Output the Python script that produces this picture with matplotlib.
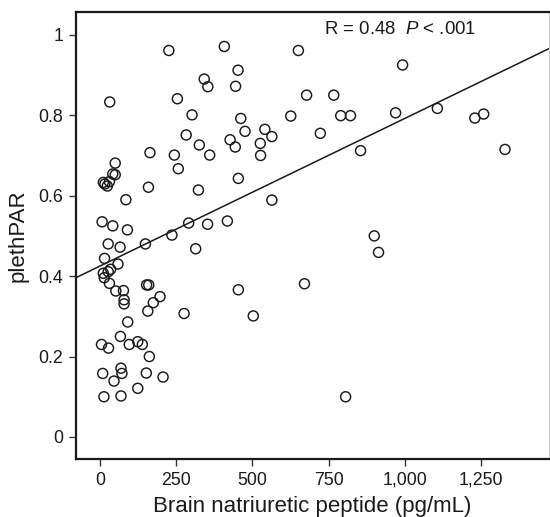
import numpy as np
import matplotlib
matplotlib.use('Agg')
import matplotlib.pyplot as plt

plt.rcParams['font.family'] = ['Liberation Sans', 'DejaVu Sans']
plt.rcParams['mathtext.fontset'] = 'custom'
plt.rcParams['mathtext.rm'] = 'Liberation Sans'
plt.rcParams['mathtext.it'] = 'Liberation Sans:italic'

# Brain natriuretic peptide (pg/mL)
bnp = [226, 408, 651, 453, 342, 354, 445, 32, 254, 678,
       767, 302, 462, 626, 790, 822, 970, 1107, 1230, 1259,
       993, 723, 283, 476, 541, 564, 326, 427, 444, 526,
       527, 164, 244, 360, 855, 1329, 257, 50, 42, 50,
       11, 16, 24, 31, 159, 454, 323, 85, 564, 7,
       42, 90, 291, 353, 418, 236, 900, 914, 27, 66,
       149, 314, 15, 59, 35, 27, 11, 14, 31, 52,
       77, 79, 79, 153, 160, 197, 175, 157, 276, 454,
       671, 503, 91, 5, 28, 67, 96, 124, 139, 162,
       9, 69, 72, 152, 207, 46, 124, 13, 69, 806]

# plethPAR
pleth = [0.961, 0.971, 0.961, 0.912, 0.890, 0.871, 0.872, 0.833, 0.841, 0.850,
         0.850, 0.801, 0.792, 0.798, 0.799, 0.799, 0.806, 0.817, 0.793, 0.803,
         0.925, 0.755, 0.751, 0.760, 0.765, 0.747, 0.726, 0.739, 0.721, 0.730,
         0.700, 0.707, 0.701, 0.701, 0.712, 0.715, 0.667, 0.681, 0.654, 0.652,
         0.633, 0.629, 0.624, 0.635, 0.621, 0.643, 0.614, 0.590, 0.589, 0.535,
         0.525, 0.515, 0.532, 0.529, 0.537, 0.502, 0.500, 0.459, 0.480, 0.472,
         0.480, 0.468, 0.444, 0.430, 0.417, 0.411, 0.407, 0.396, 0.382, 0.363,
         0.364, 0.341, 0.331, 0.378, 0.378, 0.349, 0.334, 0.313, 0.307, 0.366,
         0.381, 0.301, 0.286, 0.230, 0.221, 0.250, 0.230, 0.237, 0.230, 0.200,
         0.158, 0.171, 0.158, 0.159, 0.149, 0.139, 0.121, 0.100, 0.102, 0.100]

# fit line
fit_intercept = 0.425
fit_slope = 0.000367

xticks = [0, 250, 500, 750, 1000, 1250]
xticklabels = ['0', '250', '500', '750', '1,000', '1,250']
yticks = [0, 0.2, 0.4, 0.6, 0.8, 1]
yticklabels = ['0', '0.2', '0.4', '0.6', '0.8', '1']

fig = plt.figure(figsize=(5.5, 5.17), dpi=100)
ax = fig.add_axes([0.138, 0.112, 0.86, 0.865])

xlim = (-79, 1473)
ax.set_xlim(xlim)
ax.set_ylim(-0.055, 1.057)

ax.scatter(bnp, pleth, s=52, facecolors='none', edgecolors='#1a1a1a', linewidths=1.05, zorder=3)

xs = np.array(xlim)
ax.plot(xs, fit_intercept + fit_slope * xs, color='#1a1a1a', lw=1.1, zorder=2)

ax.text(735, 1.012, r'R = 0.48  $\it{P}$ < .001', fontsize=13.4, ha='left', va='center', color='#1a1a1a')

ax.set_xticks(xticks)
ax.set_xticklabels(xticklabels)
ax.set_yticks(yticks)
ax.set_yticklabels(yticklabels)
ax.tick_params(axis='both', labelsize=12.8, length=5, width=1, color='#333333', labelcolor='#1a1a1a', pad=4)

for side in ['left', 'bottom', 'top']:
    ax.spines[side].set_linewidth(1.6)
    ax.spines[side].set_color('#1a1a1a')
ax.spines['right'].set_linewidth(0.8)
ax.spines['right'].set_color('#cccccc')

ax.set_xlabel('Brain natriuretic peptide (pg/mL)', fontsize=16, color='#1a1a1a', labelpad=5)
ax.set_ylabel('plethPAR', fontsize=16, color='#1a1a1a', labelpad=7)

fig.savefig('out.png', dpi=100)
